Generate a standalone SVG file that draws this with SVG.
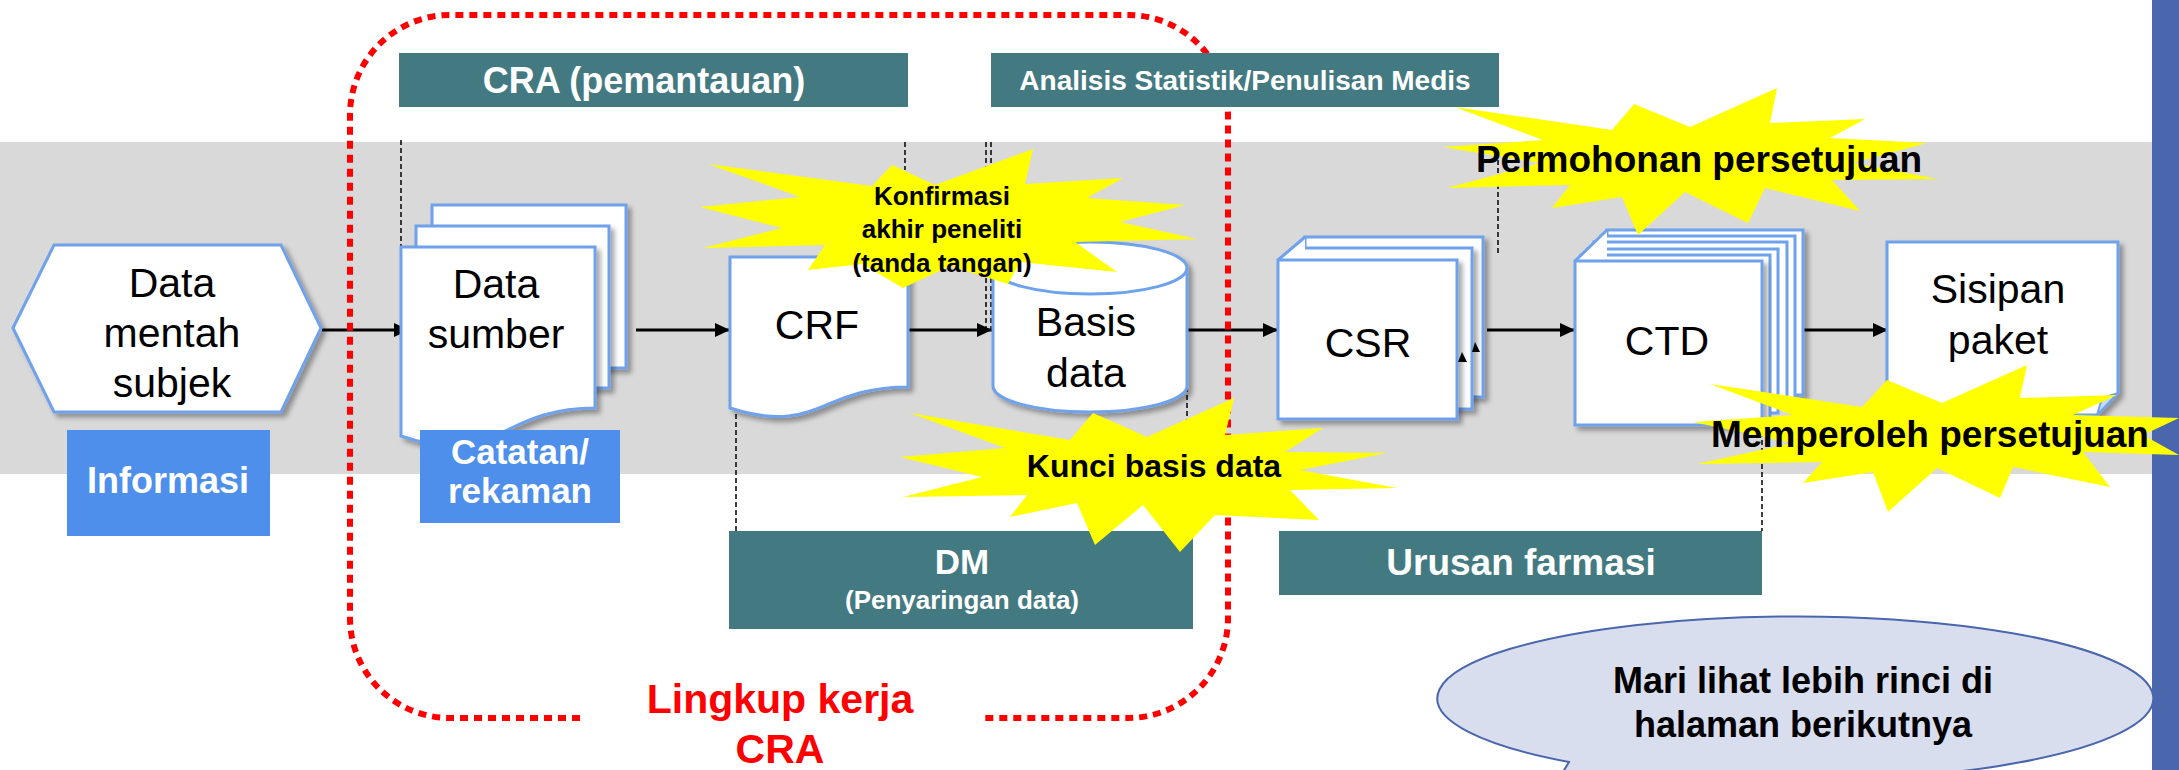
<svg xmlns="http://www.w3.org/2000/svg" width="2179" height="770" viewBox="0 0 2179 770">
<style>
.band{fill:#D9D9D9}
.teal{fill:#437A82}
.lbl{fill:#4D8FEB}
.page{fill:#FFFFFF;stroke:#6FA2EC;stroke-width:3}
.dash{stroke:#000;stroke-width:1.5;stroke-dasharray:5 3;fill:none}
.conn{stroke:#000;stroke-width:3;fill:none}
.star{fill:#FFFF00}
.scope{fill:none;stroke:#FF0000;stroke-width:6;stroke-dasharray:8 6}
text{font-family:"Liberation Sans",Arial,sans-serif}
.node{font-size:41px;fill:#000;text-anchor:middle}
.wb{font-size:36px;font-weight:bold;fill:#FFF;text-anchor:middle}
.bb{font-weight:bold;fill:#000;text-anchor:middle}
</style>
<defs>
<marker id="ah" markerUnits="userSpaceOnUse" markerWidth="15" markerHeight="14" refX="15" refY="7" orient="auto">
<path d="M0,0 L15,7 L0,14 Z" fill="#000"/>
</marker>
<filter id="sh" x="-10%" y="-10%" width="130%" height="130%">
<feDropShadow dx="4" dy="4" stdDeviation="2.5" flood-color="#000" flood-opacity="0.35"/>
</filter>
</defs>

<rect class="band" x="0" y="142" width="2152" height="332"/>
<rect x="2152" y="0" width="27" height="770" fill="#4A66AC"/>

<g id="guides">
<line class="dash" x1="401" y1="140" x2="401" y2="248"/>
<line class="dash" x1="905" y1="142" x2="905" y2="170"/>
<line class="dash" x1="986" y1="142" x2="986" y2="330"/>
<line class="dash" x1="991" y1="142" x2="991" y2="330"/>
<line class="dash" x1="736" y1="398" x2="736" y2="531"/>
<line class="dash" x1="1187" y1="387" x2="1187" y2="563"/>
<line class="dash" x1="1498" y1="160" x2="1498" y2="253"/>
<line class="dash" x1="1762" y1="400" x2="1762" y2="531"/>
</g>

<g id="connectors">
<line class="conn" x1="322" y1="330" x2="409" y2="330" marker-end="url(#ah)"/>
<line class="conn" x1="636" y1="330" x2="730" y2="330" marker-end="url(#ah)"/>
<line class="conn" x1="904" y1="330" x2="992" y2="330" marker-end="url(#ah)"/>
<line class="conn" x1="1188" y1="330" x2="1278" y2="330" marker-end="url(#ah)"/>
<line class="conn" x1="1487" y1="330" x2="1575" y2="330" marker-end="url(#ah)"/>
<line class="conn" x1="1801" y1="330" x2="1888" y2="330" marker-end="url(#ah)"/>
</g>

<g id="cra-scope">
<path class="scope" d="M580,718 H450 A100,100 0 0 1 350,618 V115 A100,100 0 0 1 450,15 H1128 A100,100 0 0 1 1228,115 V618 A100,100 0 0 1 1128,718 H984"/>
<text class="bb" x="780" y="713" style="font-size:41px;fill:#FF0000">Lingkup kerja</text>
<text class="bb" x="780" y="763" style="font-size:41px;fill:#FF0000">CRA</text>
</g>

<g id="cra-box">
<rect class="teal" x="399" y="53" width="509" height="54"/>
<text class="wb" x="644" y="93">CRA (pemantauan)</text>
</g>
<g id="analisis-box">
<rect class="teal" x="991" y="53" width="508" height="54"/>
<text class="wb" x="1245" y="90" style="font-size:28px">Analisis Statistik/Penulisan Medis</text>
</g>
<g id="dm-box">
<rect class="teal" x="729" y="531" width="464" height="98"/>
<text class="wb" x="962" y="574" style="font-size:35px">DM</text>
<text class="wb" x="962" y="609" style="font-size:26px">(Penyaringan data)</text>
</g>
<g id="urusan-box">
<rect class="teal" x="1279" y="531" width="483" height="64"/>
<text class="wb" x="1521" y="575" style="font-size:37px">Urusan farmasi</text>
</g>

<g id="data-mentah">
<polygon class="page" filter="url(#sh)" points="13,328 54,245 281,245 321,328 281,412 54,412"/>
<text class="node" x="172" y="297">Data</text>
<text class="node" x="172" y="347">mentah</text>
<text class="node" x="172" y="397">subjek</text>
</g>
<g id="informasi">
<rect class="lbl" x="67" y="430" width="203" height="106"/>
<text class="wb" x="168" y="493">Informasi</text>
</g>

<g id="data-sumber">
<rect class="page" filter="url(#sh)" x="432" y="205" width="194" height="163"/>
<rect class="page" filter="url(#sh)" x="416" y="226" width="193" height="162"/>
<path class="page" filter="url(#sh)" d="M401,247 H595 V408 C498,408 498,469 401,436 Z"/>
<text class="node" x="496" y="298">Data</text>
<text class="node" x="496" y="348">sumber</text>
</g>
<g id="catatan">
<rect class="lbl" x="420" y="430" width="200" height="93"/>
<text class="wb" x="520" y="464" style="font-size:35px">Catatan/</text>
<text class="wb" x="520" y="503" style="font-size:35px">rekaman</text>
</g>

<g id="crf">
<path class="page" filter="url(#sh)" d="M730,257 H908 V387 C819,387 819,436 730,408 Z"/>
<text class="node" x="817" y="339">CRF</text>
</g>

<g id="basis-data">
<path class="page" filter="url(#sh)" d="M993,268 A97,26 0 0 1 1187,268 V386 A97,26 0 0 1 993,386 Z"/>
<path d="M993,268 A97,26 0 0 0 1187,268" fill="none" stroke="#6FA2EC" stroke-width="3"/>
<text class="node" x="1086" y="336">Basis</text>
<text class="node" x="1086" y="387">data</text>
</g>

<g id="csr">
<rect class="page" filter="url(#sh)" x="1305" y="237" width="178" height="160"/>
<rect class="page" filter="url(#sh)" x="1293" y="248" width="179" height="161"/>
<polygon points="1278,260 1305,237 1305,260" fill="#FFF"/>
<line x1="1278" y1="260" x2="1305" y2="237" stroke="#6FA2EC" stroke-width="3"/>
<rect class="page" filter="url(#sh)" x="1278" y="260" width="179" height="159"/>
<polygon points="1458,362 1467,362 1462,352" fill="#000"/>
<polygon points="1472,352 1480,352 1475,342" fill="#000"/>
<text class="node" x="1368" y="357">CSR</text>
</g>

<g id="ctd">
<rect class="page" filter="url(#sh)" x="1607" y="230" width="196" height="165"/>
<rect class="page" x="1601" y="236" width="194" height="165"/>
<rect class="page" x="1594" y="242" width="193" height="165"/>
<rect class="page" x="1588" y="249" width="190" height="164"/>
<rect class="page" x="1581" y="255" width="189" height="164"/>
<polygon points="1575,261 1607,230 1607,261" fill="#FFF"/>
<line x1="1575" y1="261" x2="1607" y2="230" stroke="#6FA2EC" stroke-width="3"/>
<rect class="page" filter="url(#sh)" x="1575" y="261" width="187" height="164"/>
<text class="node" x="1667" y="355">CTD</text>
</g>

<g id="sisipan-paket">
<path class="page" filter="url(#sh)" d="M1887,242 H2118 V393 L2097,415 H1887 Z"/>
<path d="M2097,415 L2102,398 L2118,393 Z" fill="#C9DBF5" stroke="#6FA2EC" stroke-width="2"/>
<text class="node" x="1998" y="303">Sisipan</text>
<text class="node" x="1998" y="354">paket</text>
</g>

<g id="star-konfirmasi">
<polygon class="star" points="708,164 872,186 892,165 935,185 1033,149 1025,184 1123,178 1087,198 1185,205 1120,222 1197,239 1075,242 1117,272 1020,262 1008,284 950,266 903,288 862,264 808,270 825,245 703,248 782,228 700,207 800,197"/>
<text class="bb" x="942" y="205" style="font-size:26px">Konfirmasi</text>
<text class="bb" x="942" y="238" style="font-size:26px">akhir peneliti</text>
<text class="bb" x="942" y="272" style="font-size:26px">(tanda tangan)</text>
</g>

<g id="star-kunci">
<polygon class="star" points="910,413 1070,440 1093,413 1147,437 1234,398 1225,435 1323,428 1285,452 1387,453 1300,470 1397,488 1290,490 1319,520 1215,515 1180,552 1143,505 1095,545 1077,503 1010,517 1027,495 903,497 982,477 900,457 1005,448"/>
<text class="bb" x="1154" y="477" style="font-size:32px">Kunci basis data</text>
</g>

<g id="star-permohonan">
<polygon class="star" points="1455,107 1612,130 1634,104 1690,127 1777,88 1770,123 1865,119 1830,138 1927,143 1853,163 1938,179 1832,180 1860,211 1765,188 1748,223 1685,192 1638,235 1622,197 1552,208 1570,185 1447,188 1540,163 1443,147 1543,140"/>
<text class="bb" x="1699" y="172" style="font-size:37px">Permohonan persetujuan</text>
</g>

<g id="star-memperoleh">
<polygon class="star" points="1710,384 1862,407 1887,380 1942,403 2027,365 2020,398 2117,395 2073,415 2179,418 2143,435 2179,455 2083,452 2110,487 2013,467 2000,498 1937,468 1888,512 1873,472 1803,483 1822,462 1697,464 1792,443 1693,422 1793,415"/>
<text class="bb" x="1930" y="447" style="font-size:37px">Memperoleh persetujuan</text>
</g>

<g id="callout">
<path d="M1563,762 A358,82 0 1 1 1650,774 L1540,800 Z" fill="#D9DEEE" stroke="#4A66AC" stroke-width="2" transform="translate(6,0)"/>
<text class="bb" x="1803" y="693" style="font-size:36px">Mari lihat lebih rinci di</text>
<text class="bb" x="1803" y="737" style="font-size:36px">halaman berikutnya</text>
</g>
</svg>
